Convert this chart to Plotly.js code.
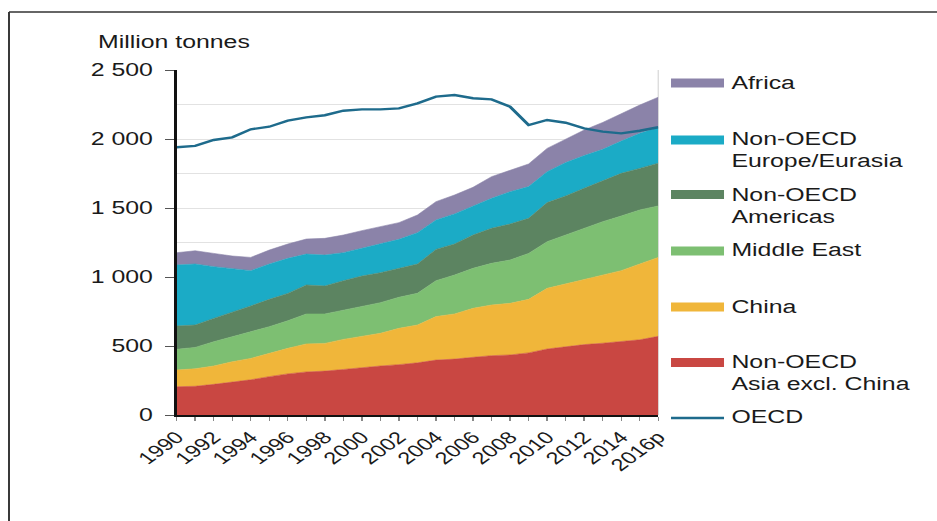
<!DOCTYPE html>
<html>
<head>
<meta charset="utf-8">
<script src="https://cdn.plot.ly/plotly-3.0.1.min.js"></script>
<style>
  html, body { margin: 0; padding: 0; background: #fff; overflow: hidden; width: 937px; height: 521px; }
  #chart { width: 679px; height: 521px; transform: scaleX(1.38); transform-origin: 0 0; }
</style>
</head>
<body>
<div id="chart"></div>
<script>
// ---- data (million tonnes) ----
const years = [1990,1991,1992,1993,1994,1995,1996,1997,1998,1999,2000,2001,2002,2003,2004,2005,2006,2007,2008,2009,2010,2011,2012,2013,2014,2015,2016];
const yearLabels = ["1990","","1992","","1994","","1996","","1998","","2000","","2002","","2004","","2006","","2008","","2010","","2012","","2014","","2016p"];
const asiaExChina = [205,208,222,238,255,278,298,312,318,330,345,355,365,378,398,405,418,430,435,450,478,495,510,520,530,545,570];
const china       = [121,127,133,148,155,169,185,203,201,218,227,237,263,274,315,327,355,367,374,388,440,454,473,494,516,549,572];
const middleEast  = [150,155,176,181,193,193,200,217,213,213,218,222,225,230,260,282,290,302,314,333,338,355,370,387,396,392,373];
const americas    = [169,162,169,177,187,198,198,210,203,212,217,217,210,212,227,225,241,254,261,254,283,283,290,297,309,301,310];
const europeEurasia = [442,442,375,319,256,256,254,224,224,203,201,208,210,227,213,218,211,217,234,230,224,242,237,227,234,254,260];
const africa      = [89,96,96,89,96,101,104,109,121,128,128,126,121,128,133,137,135,157,157,164,169,169,185,195,200,205,218];
const oecd        = [1940,1950,1993,2012,2070,2089,2133,2157,2172,2205,2215,2215,2222,2258,2307,2319,2295,2287,2234,2101,2138,2118,2077,2053,2041,2060,2085];
const yTickVals = [0,500,1000,1500,2000,2500];
const yTickText = ["0","500","1 000","1 500","2 000","2 500"];
const unitLabel = "Million tonnes";

const seriesNames = ["Non-OECD\nAsia excl. China","China","Middle East","Non-OECD\nAmericas","Non-OECD\nEurope/Eurasia","Africa"];
const seriesData = [asiaExChina, china, middleEast, americas, europeEurasia, africa];
const seriesColors = ["#C94742","#F0B63A","#7DBF72","#5C8461","#1BABC6","#8B83A9"];
const oecdName = "OECD";
const oecdColor = "#1E6B8C";

// ---- geometry (reference pixel space is stretched horizontally by S) ----
const S = 937/679;
const W = 679, H = 521;
const M = {l:128, r:202, t:70, b:106};
const pw = W - M.l - M.r;
const ph = H - M.t - M.b;
function px(x){ return (x/S - M.l)/pw; }
function py(y){ return (H - M.b - y)/ph; }

const FONT = "Liberation Sans, Arial, sans-serif";
const TXT = "#1a1a1a";

const traces = seriesData.map((d,i)=>({
  x: years, y: d, type:'scatter', mode:'lines', stackgroup:'one',
  name: seriesNames[i].replace('\n',' '),
  line:{width:0.5, color:seriesColors[i]}, fillcolor: seriesColors[i],
  hoverinfo:'skip', showlegend:false
}));
traces.push({x:years, y:oecd, type:'scatter', mode:'lines', name:oecdName,
  line:{width:2.4, color:oecdColor}, hoverinfo:'skip', showlegend:false});

// legend (drawn manually)
const legendRows = [
  {i:5, c:83,  lines:[83]},
  {i:4, c:140, lines:[139,161]},
  {i:3, c:194.5, lines:[195,217]},
  {i:2, c:251, lines:[250]},
  {i:1, c:307, lines:[307]},
  {i:0, c:362.5, lines:[362,384]}
];
const shapes = [];
const annotations = [];
legendRows.forEach(r=>{
  shapes.push({type:'rect', xref:'paper', yref:'paper', x0:px(671), x1:px(724), y0:py(r.c+4.5), y1:py(r.c-4.5),
    fillcolor:seriesColors[r.i], line:{width:0}, layer:'above'});
  const parts = seriesNames[r.i].split('\n');
  parts.forEach((t,k)=>{
    annotations.push({xref:'paper', yref:'paper', x:px(729), y:py(r.lines[k]), xanchor:'left', yanchor:'middle',
      text:t, showarrow:false, font:{family:FONT, size:18, color:TXT}});
  });
});
shapes.push({type:'line', xref:'paper', yref:'paper', x0:px(671), x1:px(724), y0:py(418), y1:py(418),
  line:{width:2.4, color:oecdColor}});
annotations.push({xref:'paper', yref:'paper', x:px(729), y:py(417), xanchor:'left', yanchor:'middle',
  text:oecdName, showarrow:false, font:{family:FONT, size:18, color:TXT}});
// unit label
annotations.push({xref:'paper', yref:'paper', x:px(95), y:py(42), xanchor:'left', yanchor:'middle',
  text:unitLabel, showarrow:false, font:{family:FONT, size:18, color:TXT}});
// light right border of plot
shapes.push({type:'line', xref:'paper', yref:'paper', x0:1, x1:1, y0:0, y1:1, line:{width:1, color:'#dcdcdc'}, layer:'below'});
// outer frame (top and left)
shapes.push({type:'line', xref:'paper', yref:'paper', x0:px(9), x1:px(940), y0:py(12), y1:py(12), line:{width:1.6, color:'#333'}});
shapes.push({type:'line', xref:'paper', yref:'paper', x0:px(9), x1:px(9), y0:py(12), y1:py(530), line:{width:1.4, color:'#333'}});

const layout = {
  width: W, height: H, margin: M,
  paper_bgcolor:'#fff', plot_bgcolor:'#fff',
  font:{family:FONT, color:TXT},
  showlegend:false,
  xaxis:{
    range:[1990,2016], tickmode:'array', tickvals:years, ticktext:yearLabels,
    tickangle:-45, ticks:'outside', ticklen:4, tickcolor:'#888', tickwidth:1,
    showline:true, linecolor:'#111', linewidth:1.6, showgrid:false, zeroline:false,
    tickfont:{family:FONT, size:17, color:TXT}, fixedrange:true
  },
  yaxis:{
    range:[0,2500], tickmode:'array', tickvals:yTickVals, ticktext:yTickText,
    ticks:'outside', ticklen:7, tickcolor:'#555', tickwidth:1, ticklabelstandoff:5,
    showline:true, linecolor:'#111', linewidth:1.6,
    showgrid:true, gridcolor:'#e2e2e2', gridwidth:1, zeroline:false,
    minor:{tickmode:'linear', tick0:0, dtick:250, showgrid:true, gridcolor:'#e2e2e2', gridwidth:1, ticks:''},
    tickfont:{family:FONT, size:18, color:TXT}, fixedrange:true
  },
  shapes: shapes, annotations: annotations
};
Plotly.newPlot('chart', traces, layout, {staticPlot:true, displayModeBar:false});
</script>
</body>
</html>
